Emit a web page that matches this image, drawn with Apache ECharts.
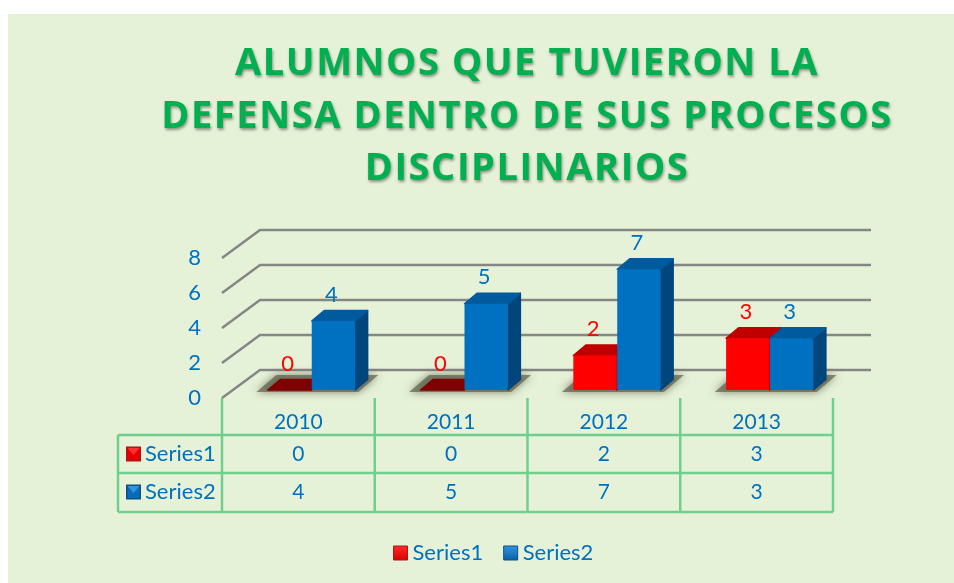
<!DOCTYPE html>
<html>
<head>
<meta charset="utf-8">
<title>Alumnos</title>
<script src="https://cdn.jsdelivr.net/npm/echarts@6/dist/echarts.min.js"></script>
<style>
  html, body { margin: 0; padding: 0; background: #fff; }
  #chart { width: 954px; height: 583px; }
</style>
</head>
<body>
<div id="chart"></div>
<script>
const titleText = 'ALUMNOS QUE TUVIERON LA\nDEFENSA DENTRO DE SUS PROCESOS\nDISCIPLINARIOS';
const categories = ['2010', '2011', '2012', '2013'];
const series1Values = [0, 0, 2, 3];
const series2Values = [4, 5, 7, 3];
const yTicks = [0, 2, 4, 6, 8];

const fontName = 'Lato';
const textBlue = '#0070c0';
const tableGreen = '#6fd08e';
const wallDx = 38, wallDy = -28;     // profundidad de las lineas de fondo
const barDx = 12.5, barDy = -10.5;   // profundidad de cada barra
const baseUp = 8;                    // la base de las barras sobre el eje

const red = { front: '#ff0000', top: '#c00000', side: '#a00000', zero: '#7f0000', label: '#ff0000' };
const blue = { front: '#0070c0', top: '#005a9e', side: '#00457c', zero: '#005a9e', label: '#0070c0' };

const chart = echarts.init(document.getElementById('chart'), null, { renderer: 'canvas' });

// el titulo va en su propia capa para poder separar las letras
const titleLayer = chart.getZr().painter.getLayer(1);
titleLayer.ctx.letterSpacing = '1.6px';

function wallLines(params, api) {
  const v = api.value(1);
  const band = api.size([1, 0])[0];
  const y = api.coord([0, v])[1];
  const left = api.coord([0, v])[0] - band / 2;
  const right = api.coord([categories.length - 1, v])[0] + band / 2;
  return {
    type: 'polyline',
    shape: { points: [[left, y], [left + wallDx, y + wallDy], [right + wallDx, y + wallDy]] },
    style: { fill: null, stroke: '#868686', lineWidth: 2.5 }
  };
}

function barShadow(params, api) {
  const c = api.coord([api.value(0), 0]);
  const y = c[1] - 6;
  return {
    type: 'polygon',
    shape: { points: [[c[0] - 42, y], [c[0] + 60, y], [c[0] + 80, y - 17], [c[0] - 22, y - 17]] },
    style: { fill: 'rgba(95,95,75,0.7)', shadowBlur: 9, shadowColor: 'rgba(85,85,65,1)' }
  };
}

function bar3d(colors, offset) {
  return function (params, api) {
    const i = api.value(0), v = api.value(1);
    const band = api.size([1, 0])[0];
    const w = band * 0.284;
    const x = api.coord([i, 0])[0] + band * offset;
    const y0 = api.coord([i, 0])[1] - baseUp;
    const h = api.size([0, v])[1] * 0.985;
    const yt = y0 - h;
    const topColor = v === 0 ? colors.zero : colors.top;
    const edge = (fill) => ({ fill: fill, stroke: fill, lineWidth: 1.5, lineJoin: 'round' });
    const children = [
      { type: 'polygon', shape: { points: [[x + w, y0], [x + w + barDx, y0 + barDy], [x + w + barDx, yt + barDy], [x + w, yt]] }, style: edge(colors.side) },
      { type: 'polygon', shape: { points: [[x, yt], [x + w, yt], [x + w + barDx, yt + barDy], [x + barDx, yt + barDy]] }, style: edge(topColor) }
    ];
    if (v > 0) {
      children.push({ type: 'rect', shape: { x: x, y: yt, width: w, height: h, r: 1.5 }, style: { fill: colors.front } });
    }
    children.push({
      type: 'text',
      style: {
        text: String(v), x: x + w / 2 - 2, y: yt + barDy - 16,
        fill: colors.label, font: '22px ' + fontName, align: 'center', verticalAlign: 'middle'
      }
    });
    return { type: 'group', children: children };
  };
}

function tableFrame(params, api) {
  const i = api.value(0);
  const band = api.size([1, 0])[0];
  const c = api.coord([i, 0]);
  const x = c[0] - band / 2, y = c[1];
  const line = { stroke: tableGreen, lineWidth: 2.5 };
  const rows = [37, 75, 114];
  const children = [{ type: 'line', shape: { x1: x, y1: y, x2: x, y2: y + 114 }, style: line }];
  rows.forEach(dy => children.push({ type: 'line', shape: { x1: x, y1: y + dy, x2: x + band, y2: y + dy }, style: line }));
  if (i === categories.length - 1) {
    children.push({ type: 'line', shape: { x1: x + band, y1: y, x2: x + band, y2: y + 114 }, style: line });
  }
  if (i === 0) {
    children.push({ type: 'line', shape: { x1: x - 104, y1: y + 37, x2: x - 104, y2: y + 114 }, style: line });
    rows.forEach(dy => children.push({ type: 'line', shape: { x1: x - 104, y1: y + dy, x2: x, y2: y + dy }, style: line }));
  }
  return { type: 'group', children: children };
}

function tableRow(name, keyColors, rowY) {
  return function (params, api) {
    const i = api.value(0);
    const band = api.size([1, 0])[0];
    const c = api.coord([i, 0]);
    const y = c[1] + rowY;
    const children = [{
      type: 'text',
      style: { text: String(api.value(1)), x: c[0], y: y, fill: textBlue, font: '21px ' + fontName, align: 'center', verticalAlign: 'middle' }
    }];
    if (i === 0) {
      const left = c[0] - band / 2;
      const kx = left - 96, ky = y - 7.5, s = 15;
      children.push(
        { type: 'rect', shape: { x: kx, y: ky, width: s, height: s }, style: { fill: keyColors[2] } },
        { type: 'rect', shape: { x: kx + 1.5, y: ky + 1.5, width: s - 3, height: s - 3 }, style: { fill: keyColors[1] } },
        { type: 'polygon', shape: { points: [[kx + 1.5, ky + 1.5], [kx + s - 1.5, ky + 1.5], [kx + s / 2, ky + s / 2 + 1]] }, style: { fill: keyColors[0] } },
        { type: 'text', style: { text: name, x: left - 77, y: y, fill: textBlue, font: '22px ' + fontName, align: 'left', verticalAlign: 'middle' } }
      );
    }
    return { type: 'group', children: children };
  };
}

function withIndex(values) {
  return values.map((v, i) => [i, v]);
}

function customSeries(name, data, renderItem, z) {
  return { type: 'custom', name: name, data: data, renderItem: renderItem, z: z, silent: true, animation: false, clip: false, encode: { x: 0, y: 1 } };
}

function keyGradient(from, to) {
  return new echarts.graphic.LinearGradient(0, 0, 0, 1, [{ offset: 0, color: from }, { offset: 1, color: to }]);
}

const option = {
  animation: false,
  backgroundColor: '#e6f2d8',
  graphic: [
    { type: 'rect', silent: true, z: -10, shape: { x: 0, y: 0, width: 954, height: 14 }, style: { fill: '#fff' } },
    { type: 'rect', silent: true, z: -10, shape: { x: 0, y: 0, width: 8, height: 583 }, style: { fill: '#fff' } }
  ],
  title: {
    text: titleText,
    left: 522,
    top: 33,
    zlevel: 1,
    textAlign: 'center',
    textStyle: {
      fontFamily: 'Open Sans',
      fontWeight: 700,
      fontSize: 38,
      lineHeight: 52.5,
      color: '#00b050',
      textShadowColor: 'rgba(0,0,0,0.4)',
      textShadowBlur: 3,
      textShadowOffsetX: 1,
      textShadowOffsetY: 2
    }
  },
  legend: {
    left: 388,
    top: 537,
    itemWidth: 14,
    itemHeight: 14,
    itemGap: 20,
    icon: 'rect',
    selectedMode: false,
    textStyle: { fontFamily: fontName, fontSize: 22, color: textBlue },
    data: [
      { name: 'Series1', itemStyle: { color: keyGradient('#ff2a2a', '#d80000'), borderColor: '#a81818', borderWidth: 1 } },
      { name: 'Series2', itemStyle: { color: keyGradient('#2f95e0', '#0a5fa5'), borderColor: '#0f4f85', borderWidth: 1 } }
    ]
  },
  grid: { left: 222, top: 258, width: 611, height: 140 },
  xAxis: {
    type: 'category',
    data: categories,
    axisLine: { show: false },
    axisTick: { show: false },
    axisLabel: { margin: 14, fontFamily: fontName, fontSize: 21, color: textBlue }
  },
  yAxis: {
    type: 'value',
    min: 0,
    max: 8,
    interval: 2,
    axisLine: { show: false },
    axisTick: { show: false },
    splitLine: { show: false },
    axisLabel: { margin: 21, padding: [4, 0, 0, 0], fontFamily: fontName, fontSize: 22, color: textBlue }
  },
  series: [
    customSeries('lineas', yTicks.map(v => [0, v]), wallLines, 1),
    customSeries('sombras', withIndex(categories.map(() => 0)), barShadow, 2),
    customSeries('Series1', withIndex(series1Values), bar3d(red, -0.2), 3),
    customSeries('Series2', withIndex(series2Values), bar3d(blue, 0.0875), 4),
    customSeries('tabla', withIndex(categories.map(() => 0)), tableFrame, 5),
    customSeries('fila1', withIndex(series1Values), tableRow('Series1', ['#ff3030', '#e80000', '#a81818'], 56), 6),
    customSeries('fila2', withIndex(series2Values), tableRow('Series2', ['#2f95e0', '#0a6cb8', '#0f4f85'], 94), 6)
  ]
};

chart.setOption(option);
</script>
</body>
</html>
